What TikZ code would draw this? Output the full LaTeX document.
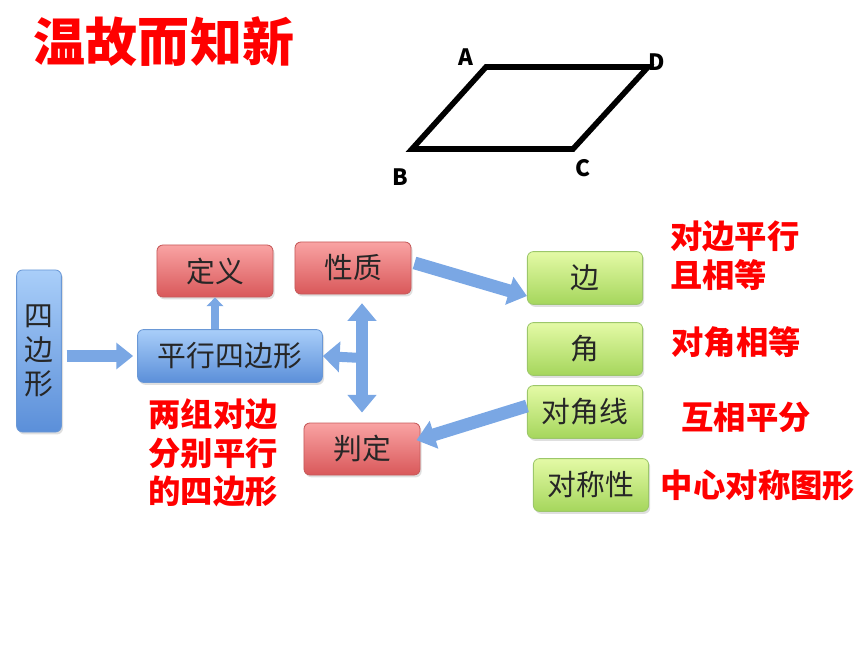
\documentclass[tikz,border=0pt]{standalone}
\usepackage{fontspec}
\newfontfamily\cjk{Noto Sans CJK SC}
\usetikzlibrary{arrows.meta,shadows}

\definecolor{redtop}{HTML}{F9A3A3}
\definecolor{redbot}{HTML}{D9585A}
\definecolor{redline}{HTML}{C65B5B}
\definecolor{greentop}{HTML}{E4FAA6}
\definecolor{greenbot}{HTML}{A5D65C}
\definecolor{greenline}{HTML}{9CC76A}
\definecolor{bluetop}{HTML}{A9CEF9}
\definecolor{bluebot}{HTML}{5B8FD9}
\definecolor{blueline}{HTML}{6A98D6}
\definecolor{arrowblue}{HTML}{7AA7E4}
\definecolor{textred}{HTML}{FF0000}

\tikzset{
  box/.style={rounded corners=0.15cm, line width=0.6pt, inner sep=0pt,
    font=\cjk\fontsize{20.5}{24}\selectfont, text=black!85,
    drop shadow={opacity=0.25, shadow xshift=0.04cm, shadow yshift=-0.06cm}},
  redbox/.style={box, draw=redline, top color=redtop, bottom color=redbot,
    minimum width=2.9cm, minimum height=1.3cm},
  greenbox/.style={box, draw=greenline, top color=greentop, bottom color=greenbot,
    minimum width=2.88cm, minimum height=1.32cm},
  bluebox/.style={box, draw=blueline, top color=bluetop, bottom color=bluebot},
  note/.style={font=\cjk\bfseries\fontsize{23}{27.6}\selectfont, text=textred, inner sep=0pt},
  vertex/.style={font=\cjk\bfseries\fontsize{16}{18}\selectfont, inner sep=0pt},
  fat/.style={draw=arrowblue, line width=0.32cm, -{Triangle[width=0.7cm,length=0.46cm]}},
}

\begin{document}
\begin{tikzpicture}[x=0.025cm,y=-0.025cm]
    \useasboundingbox (0,0) rectangle (860,645);

    % title
    \node[font=\cjk\bfseries\fontsize{37}{40}\selectfont, text=textred, inner sep=0pt] (title) at (164,42) {温故而知新};

    % parallelogram ABCD
    \coordinate (A) at (486,67);
    \coordinate (D) at (648,67);
    \coordinate (B) at (412,149);
    \coordinate (C) at (573,149);
    \draw[line width=0.14cm, line join=miter] (A) -- (D) -- (C) -- (B) -- cycle;
    \node[vertex] (la) at (466,57)  {A};
    \node[vertex] (ld) at (657,62)  {D};
    \node[vertex] (lb) at (400,177) {B};
    \node[vertex] (lc) at (583,168) {C};

    % left part
    \node[bluebox, minimum width=1.12cm, minimum height=4.05cm, align=center,
          font=\cjk\fontsize{20.5}{24}\selectfont] (sbx) at (39,351) {四\\边\\形};
    \node[bluebox, minimum width=4.62cm, minimum height=1.32cm] (pxsbx) at (230,356) {平行四边形};
    \node[redbox] (dingyi)   at (215,271) {定义};
    \node[redbox] (xingzhi)  at (353,268) {性质};
    \node[redbox] (panding)  at (362,449) {判定};

    % right part
    \node[greenbox] (bian)  at (585,278) {边};
    \node[greenbox] (jiao)  at (585,349) {角};
    \node[greenbox] (djx)   at (585,412) {对角线};
    \node[greenbox] (dcx)   at (591,485) {对称性};

    % red notes
    \node[note, align=left, anchor=west] (n1) at (670,256) {对边平行\\且相等};
    \node[note] (n2) at (736,342) {对角相等};
    \node[note] (n3) at (746,417) {互相平分};
    \node[note] (n4) at (758,485) {中心对称图形};
    \node[note, align=center] (n5) at (213,453) {两组对边\\分别平行\\的四边形};

    % arrows
    \coordinate (mid) at (362,358);
    \draw[fat, line width=0.3cm, -{Triangle[width=0.64cm,length=0.42cm]},
          shorten <=0.12cm, shorten >=0.1cm] (sbx.east |- pxsbx) -- (pxsbx.west);
    \draw[draw=arrowblue, line width=0.18cm, -{Triangle[width=0.42cm,length=0.22cm]}]
          (dingyi.south |- pxsbx.north) -- (dingyi.south);
    \draw[draw=arrowblue, line width=0.3cm,
          {Triangle[width=0.7cm,length=0.44cm]}-{Triangle[width=0.7cm,length=0.44cm]}]
          ([yshift=-0.22cm]mid |- xingzhi.south) -- ([yshift=0.25cm]mid |- panding.north);
    \draw[draw=arrowblue, line width=0.25cm, -{Triangle[width=0.75cm,length=0.42cm]}]
          (mid) -- (pxsbx.east);
    \draw[fat, shorten <=0.08cm] ([yshift=0.15cm]xingzhi.east) -- ([yshift=-0.45cm]bian.west);
    \draw[fat] ([yshift=0.15cm]djx.west) -- ([yshift=0.22cm,xshift=-0.1cm]panding.east);
\end{tikzpicture}
\end{document}
